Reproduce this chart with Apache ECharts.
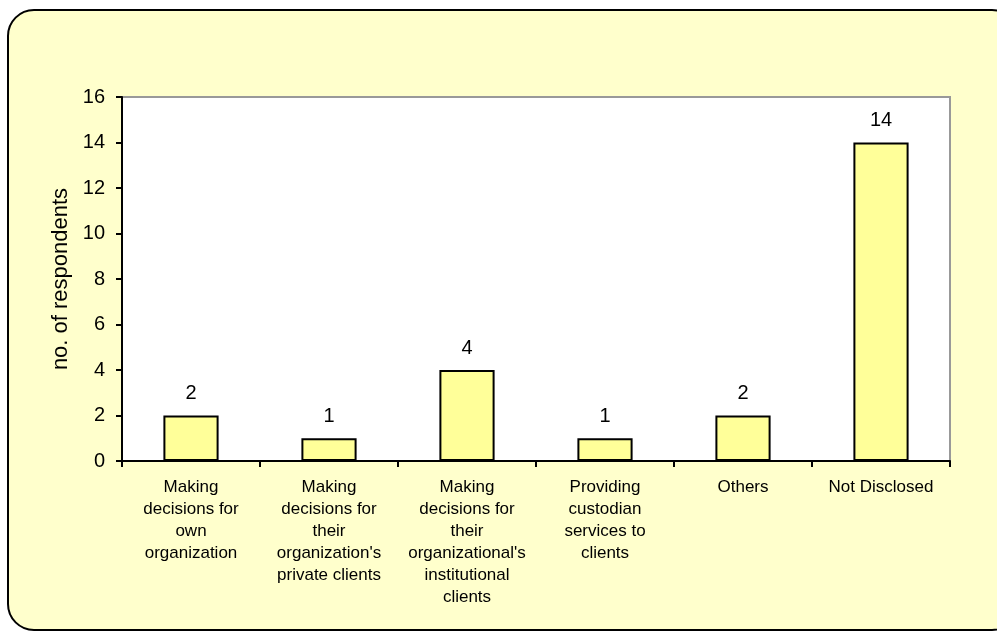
<!DOCTYPE html>
<html>
<head>
<meta charset="utf-8">
<script src="https://cdn.jsdelivr.net/npm/echarts@6/dist/echarts.min.js"></script>
<style>
  html, body { margin: 0; padding: 0; background: #ffffff; }
  #chart { width: 997px; height: 631px; }
</style>
</head>
<body>
<div id="chart"></div>
<script>
// Respondent roles and counts
const categories = [
  'Making\ndecisions for\nown\norganization',
  'Making\ndecisions for\ntheir\norganization\'s\nprivate clients',
  'Making\ndecisions for\ntheir\norganizational\'s\ninstitutional\nclients',
  'Providing\ncustodian\nservices to\nclients',
  'Others',
  'Not Disclosed'
];
const respondents = [2, 1, 4, 1, 2, 14];
const yTicks = { min: 0, max: 16, interval: 2 };
const yAxisTitle = 'no. of respondents';

const chart = echarts.init(document.getElementById('chart'), null, { renderer: 'canvas' });
const font = 'Arial, "Liberation Sans", sans-serif';

chart.setOption({
  animation: false,
  backgroundColor: '#ffffff',
  graphic: [{
    type: 'rect',
    z: -10,
    silent: true,
    shape: { x: 8, y: 10, width: 1010, height: 620, r: 26 },
    style: { fill: '#FFFFCC', stroke: '#000000', lineWidth: 2 }
  }],
  grid: {
    left: 122, right: 47, top: 97, bottom: 170,
    show: true,
    backgroundColor: '#ffffff',
    borderColor: '#999999',
    borderWidth: 2
  },
  xAxis: {
    type: 'category',
    data: categories,
    boundaryGap: true,
    axisLine: { lineStyle: { color: '#000000', width: 2 } },
    axisTick: { show: true, alignWithLabel: false, length: 6, lineStyle: { color: '#000000', width: 2 } },
    axisLabel: {
      interval: 0,
      margin: 15,
      color: '#000000',
      fontFamily: font,
      fontSize: 17,
      lineHeight: 22,
      align: 'center'
    },
    splitLine: { show: false }
  },
  yAxis: {
    type: 'value',
    min: yTicks.min,
    max: yTicks.max,
    interval: yTicks.interval,
    name: yAxisTitle,
    nameLocation: 'middle',
    nameGap: 42,
    nameRotate: 90,
    nameTextStyle: { color: '#000000', fontFamily: font, fontSize: 22 },
    axisLine: { show: true, lineStyle: { color: '#000000', width: 2 } },
    axisTick: { show: true, length: 6, lineStyle: { color: '#000000', width: 2 } },
    axisLabel: { color: '#000000', fontFamily: font, fontSize: 20, margin: 17 },
    splitLine: { show: false }
  },
  series: [{
    type: 'bar',
    data: respondents,
    barWidth: '40%',
    itemStyle: { color: '#FFFF99', borderColor: '#000000', borderWidth: 2 },
    label: {
      show: true,
      position: 'top',
      distance: 12,
      color: '#000000',
      fontFamily: font,
      fontSize: 20
    }
  }]
});
</script>
</body>
</html>
